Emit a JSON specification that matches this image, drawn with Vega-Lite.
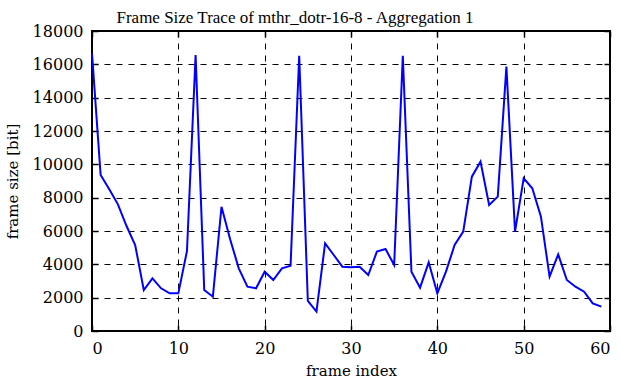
{
  "$schema": "https://vega.github.io/schema/vega-lite/v6.json",
  "width": 518,
  "height": 300,
  "autosize": "none",
  "padding": {"left": 92, "top": 31, "right": 11, "bottom": 51},
  "background": "white",
  "title": {"text": "Frame Size Trace of mthr_dotr-16-8 - Aggregation 1", "font": "Liberation Serif", "fontSize": 17, "fontWeight": "normal", "color": "black", "anchor": "middle", "dx": -56, "offset": -4},
  "config": {
    "view": {"stroke": "black", "strokeWidth": 2},
    "axis": {"labelFont": "DejaVu Serif", "titleFont": "DejaVu Serif", "labelFontSize": 16, "titleFontSize": 15, "titleFontWeight": "normal", "labelColor": "black", "titleColor": "black", "domain": false, "tickColor": "black", "tickWidth": 1.5, "tickSize": 6, "gridColor": "black", "gridDash": [6, 6], "gridWidth": 1, "gridOpacity": 1}
  },
  "data": {"values": [
    {"i": 0, "v": 16660}, {"i": 1, "v": 9360}, {"i": 2, "v": 8500}, {"i": 3, "v": 7600}, {"i": 4, "v": 6300},
    {"i": 5, "v": 5160}, {"i": 6, "v": 2460}, {"i": 7, "v": 3160}, {"i": 8, "v": 2560}, {"i": 9, "v": 2260},
    {"i": 10, "v": 2260}, {"i": 11, "v": 4800}, {"i": 12, "v": 16560}, {"i": 13, "v": 2460}, {"i": 14, "v": 2060},
    {"i": 15, "v": 7450}, {"i": 16, "v": 5500}, {"i": 17, "v": 3760}, {"i": 18, "v": 2660}, {"i": 19, "v": 2560},
    {"i": 20, "v": 3560}, {"i": 21, "v": 3060}, {"i": 22, "v": 3760}, {"i": 23, "v": 3920}, {"i": 24, "v": 16520},
    {"i": 25, "v": 1800}, {"i": 26, "v": 1160}, {"i": 27, "v": 5260}, {"i": 28, "v": 4560}, {"i": 29, "v": 3860},
    {"i": 30, "v": 3820}, {"i": 31, "v": 3860}, {"i": 32, "v": 3360}, {"i": 33, "v": 4760}, {"i": 34, "v": 4920},
    {"i": 35, "v": 3960}, {"i": 36, "v": 16520}, {"i": 37, "v": 3560}, {"i": 38, "v": 2600}, {"i": 39, "v": 4120},
    {"i": 40, "v": 2260}, {"i": 41, "v": 3560}, {"i": 42, "v": 5160}, {"i": 43, "v": 5960}, {"i": 44, "v": 9260},
    {"i": 45, "v": 10160}, {"i": 46, "v": 7560}, {"i": 47, "v": 8060}, {"i": 48, "v": 15860}, {"i": 49, "v": 5960},
    {"i": 50, "v": 9160}, {"i": 51, "v": 8560}, {"i": 52, "v": 6860}, {"i": 53, "v": 3260}, {"i": 54, "v": 4600},
    {"i": 55, "v": 3060}, {"i": 56, "v": 2660}, {"i": 57, "v": 2360}, {"i": 58, "v": 1660}, {"i": 59, "v": 1460}
  ]},
  "layer": [
    {
      "mark": {"type": "line", "color": "#0000ff", "strokeWidth": 2},
      "encoding": {
        "x": {"field": "i", "type": "quantitative", "scale": {"domain": [0, 60], "nice": false}, "axis": {"title": "frame index", "values": [0, 10, 20, 30, 40, 50, 60], "ticks": false, "labelPadding": 9, "titlePadding": 7}},
        "y": {"field": "v", "type": "quantitative", "scale": {"domain": [0, 18000], "nice": false}, "axis": {"title": "frame size [bit]", "format": "d", "values": [0, 2000, 4000, 6000, 8000, 10000, 12000, 14000, 16000, 18000], "ticks": false, "labelPadding": 9, "titlePadding": 12}}
      }
    },
    {
      "mark": {"type": "line", "opacity": 0},
      "encoding": {
        "x": {"field": "i", "type": "quantitative", "axis": {"orient": "top", "offset": -300, "title": null, "labels": false, "grid": false, "values": [0, 10, 20, 30, 40, 50, 60]}},
        "y": {"field": "v", "type": "quantitative", "axis": {"orient": "right", "offset": -518, "title": null, "labels": false, "grid": false, "values": [0, 2000, 4000, 6000, 8000, 10000, 12000, 14000, 16000, 18000]}}
      }
    },
    {
      "mark": {"type": "line", "opacity": 0},
      "encoding": {
        "x": {"field": "i", "type": "quantitative", "axis": {"orient": "bottom", "offset": -300, "title": null, "labels": false, "grid": false, "values": [0, 10, 20, 30, 40, 50, 60]}},
        "y": {"field": "v", "type": "quantitative", "axis": {"orient": "left", "offset": -518, "title": null, "labels": false, "grid": false, "values": [0, 2000, 4000, 6000, 8000, 10000, 12000, 14000, 16000, 18000]}}
      }
    }
  ],
  "resolve": {"axis": {"x": "independent", "y": "independent"}}
}
